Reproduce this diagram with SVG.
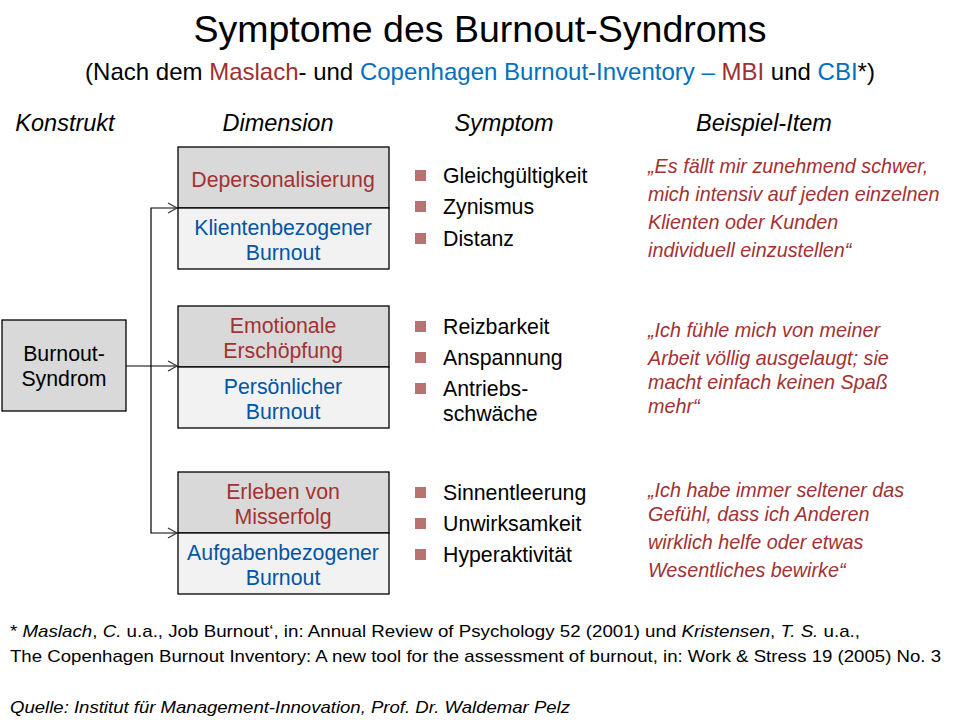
<svg xmlns="http://www.w3.org/2000/svg" width="960" height="720" viewBox="0 0 960 720">
<defs>
<style>
text{font-family:"Liberation Sans",Arial,sans-serif;}
.t{font-size:37.5px;fill:#000;}
.sub{font-size:24px;fill:#000;}
.red{fill:#a03030;}
.blue{fill:#0070c0;}
.hd{font-size:23.5px;font-style:italic;fill:#000;}
.box1{fill:#d9d9d9;stroke:#000;stroke-width:1.3;}
.box2{fill:#f2f2f2;stroke:#000;stroke-width:1.3;}
.bt{font-size:21.3px;text-anchor:middle;}
.dr{fill:#a33232;}
.db{fill:#0055a5;}
.sym{font-size:21.3px;fill:#000;}
.bul{fill:#b87272;}
.q{font-size:19.8px;font-style:italic;fill:#a33232;}
.fn{font-size:17px;fill:#000;}
.conn{fill:none;stroke:#000;stroke-width:1.2;}
</style>
<marker id="ah" markerWidth="12" markerHeight="12" refX="10" refY="6" orient="auto" markerUnits="userSpaceOnUse">
<path d="M1,1 L10,6 L1,11" fill="none" stroke="#333" stroke-width="1.2"/>
</marker>
</defs>
<rect width="960" height="720" fill="#fff"/>

<text class="t" x="480" y="42" text-anchor="middle">Symptome des Burnout-Syndroms</text>
<text class="sub" x="480" y="80" text-anchor="middle">(Nach dem <tspan class="red">Maslach</tspan>- und <tspan class="blue">Copenhagen Burnout-Inventory – </tspan><tspan class="red">MBI</tspan> und <tspan class="blue">CBI</tspan>*)</text>

<text class="hd" x="65" y="131" text-anchor="middle">Konstrukt</text>
<text class="hd" x="278" y="131" text-anchor="middle">Dimension</text>
<text class="hd" x="504" y="131" text-anchor="middle">Symptom</text>
<text class="hd" x="764" y="131" text-anchor="middle">Beispiel-Item</text>

<g id="connectors">
<path class="conn" d="M126,366 H177" marker-end="url(#ah)"/>
<path class="conn" d="M151,366 V208 H177" marker-end="url(#ah)"/>
<path class="conn" d="M151,366 V533 H177" marker-end="url(#ah)"/>
</g>

<g id="burnout">
<rect class="box1" x="2" y="320" width="124" height="91"/>
<text class="bt" x="64" y="361" fill="#000">Burnout-</text>
<text class="bt" x="64" y="386" fill="#000">Syndrom</text>
</g>

<g id="dim1">
<rect class="box1" x="178" y="147" width="211" height="61"/>
<rect class="box2" x="178" y="208" width="211" height="61"/>
<text class="bt dr" x="283" y="187">Depersonalisierung</text>
<text class="bt db" x="283" y="235">Klientenbezogener</text>
<text class="bt db" x="283" y="260">Burnout</text>
</g>

<g id="dim2">
<rect class="box1" x="178" y="306" width="211" height="61"/>
<rect class="box2" x="178" y="367" width="211" height="61"/>
<text class="bt dr" x="283" y="333">Emotionale</text>
<text class="bt dr" x="283" y="358">Erschöpfung</text>
<text class="bt db" x="283" y="394">Persönlicher</text>
<text class="bt db" x="283" y="419">Burnout</text>
</g>

<g id="dim3">
<rect class="box1" x="178" y="472" width="211" height="61"/>
<rect class="box2" x="178" y="533" width="211" height="61"/>
<text class="bt dr" x="283" y="499">Erleben von</text>
<text class="bt dr" x="283" y="524">Misserfolg</text>
<text class="bt db" x="283" y="560">Aufgabenbezogener</text>
<text class="bt db" x="283" y="585">Burnout</text>
</g>

<g id="sym1">
<rect class="bul" x="415" y="170" width="11" height="11"/>
<rect class="bul" x="415" y="201" width="11" height="11"/>
<rect class="bul" x="415" y="233" width="11" height="11"/>
<text class="sym" x="443" y="183">Gleichgültigkeit</text>
<text class="sym" x="443" y="214">Zynismus</text>
<text class="sym" x="443" y="246">Distanz</text>
</g>

<g id="sym2">
<rect class="bul" x="415" y="321" width="11" height="11"/>
<rect class="bul" x="415" y="352" width="11" height="11"/>
<rect class="bul" x="415" y="383" width="11" height="11"/>
<text class="sym" x="443" y="334">Reizbarkeit</text>
<text class="sym" x="443" y="365">Anspannung</text>
<text class="sym" x="443" y="396">Antriebs-</text>
<text class="sym" x="443" y="421">schwäche</text>
</g>

<g id="sym3">
<rect class="bul" x="415" y="487" width="11" height="11"/>
<rect class="bul" x="415" y="518" width="11" height="11"/>
<rect class="bul" x="415" y="549" width="11" height="11"/>
<text class="sym" x="443" y="500">Sinnentleerung</text>
<text class="sym" x="443" y="531">Unwirksamkeit</text>
<text class="sym" x="443" y="562">Hyperaktivität</text>
</g>

<g id="item1">
<text class="q" x="648" y="173">„Es fällt mir zunehmend schwer,</text>
<text class="q" x="648" y="201">mich intensiv auf jeden einzelnen</text>
<text class="q" x="648" y="229">Klienten oder Kunden</text>
<text class="q" x="648" y="257">individuell einzustellen“</text>
</g>

<g id="item2">
<text class="q" x="648" y="337">„Ich fühle mich von meiner</text>
<text class="q" x="648" y="365">Arbeit völlig ausgelaugt; sie</text>
<text class="q" x="648" y="389">macht einfach keinen Spaß</text>
<text class="q" x="648" y="413">mehr“</text>
</g>

<g id="item3">
<text class="q" x="648" y="497">„Ich habe immer seltener das</text>
<text class="q" x="648" y="521">Gefühl, dass ich Anderen</text>
<text class="q" x="648" y="549">wirklich helfe oder etwas</text>
<text class="q" x="648" y="577">Wesentliches bewirke“</text>
</g>

<g id="footnote">
<text class="fn" x="10" y="637" textLength="850" lengthAdjust="spacingAndGlyphs">* <tspan font-style="italic">Maslach</tspan>, <tspan font-style="italic">C.</tspan> u.a., Job Burnout‘, in: Annual Review of Psychology  52 (2001) und <tspan font-style="italic">Kristensen</tspan>, <tspan font-style="italic">T. S.</tspan> u.a.,</text>
<text class="fn" x="10" y="662" textLength="931" lengthAdjust="spacingAndGlyphs">The Copenhagen Burnout Inventory: A new tool for the assessment of burnout, in: Work &amp; Stress 19 (2005) No. 3</text>
<text class="fn" x="10" y="713" font-style="italic" textLength="560" lengthAdjust="spacingAndGlyphs">Quelle: Institut für Management-Innovation, Prof. Dr. Waldemar Pelz</text>
</g>
</svg>
